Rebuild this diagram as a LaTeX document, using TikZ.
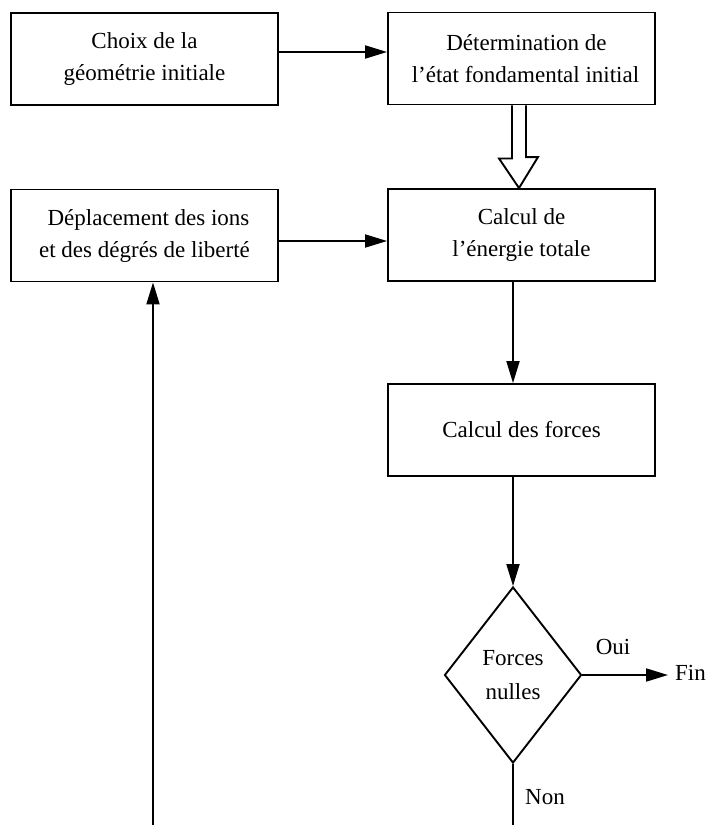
\documentclass[tikz,border=0pt]{standalone}
\usepackage{fontspec}
\setmainfont{Liberation Serif}
\usetikzlibrary{shapes.geometric,arrows.meta,calc}
\begin{document}
\begin{tikzpicture}[x=1pt,y=-1pt,
  box/.style={draw, line width=1.9pt, minimum width=267pt, minimum height=92pt, inner sep=0pt, align=center, font=\fontsize{23}{32}\selectfont},
  conn/.style={line width=1.9pt, -{Triangle[length=22pt,width=13pt]}},
  plain/.style={line width=1.9pt},
  lbl/.style={inner sep=0pt, font=\fontsize{23}{28}\selectfont}]
\useasboundingbox (0,0) rectangle (707,825);
\node[box] (b1) at (144.5,59) {Choix de la\\géométrie initiale};
\node[box] (b2) at (521.5,58.5) {\hspace*{10pt}Détermination de\\\hspace*{8pt}l’état fondamental initial};
\node[box] (b4) at (144.5,235.5) {\hspace*{8pt}Déplacement des ions\\et des dégrés de liberté};
\node[box] (b3) at (521.5,235) {Calcul de\\l’énergie totale};
\node[box] (b5) at (521.5,430) {Calcul des forces};
\node[draw, diamond, line width=1.9pt, minimum width=137pt, minimum height=176pt, inner sep=0pt, align=center, font=\fontsize{23}{34}\selectfont] (d) at (513,675) {Forces\\nulles};
\node[lbl, anchor=west] (fin) at (675,673) {Fin};
\node[lbl] (oui) at (613,647) {Oui};
\node[lbl] (non) at (545,797) {Non};
% connectors
\draw[conn] ([yshift=7pt]b1.east) -- ([yshift=7pt]b1.east -| b2.west);
\draw[conn] ([yshift=-5.5pt]b4.east) -- ([yshift=-5.5pt]b4.east -| b3.west);
\draw[plain, line join=miter] ($(b2.south)+(-9.5,0)$) -- ++(0,53) -- ++(-13,0) -- ($(b3.north)+(-2.5,0)$) -- ++(19,-31) -- ++(-12,0) -- ($(b2.south)+(4.5,0)$);
\draw[conn] (d.north |- b3.south) -- (d.north |- b5.north);
\draw[conn] (d.north |- b5.south) -- (d.north);
\draw[conn] (d.east) -- ([xshift=-7pt]d.east -| fin.west);
\coordinate (nb) at (d.south |- 0,825);
\draw[plain] (d.south) -- (nb);
\coordinate (rs) at (153,825);
\draw[conn] (rs) -- (rs |- b4.south);
\end{tikzpicture}
\end{document}
